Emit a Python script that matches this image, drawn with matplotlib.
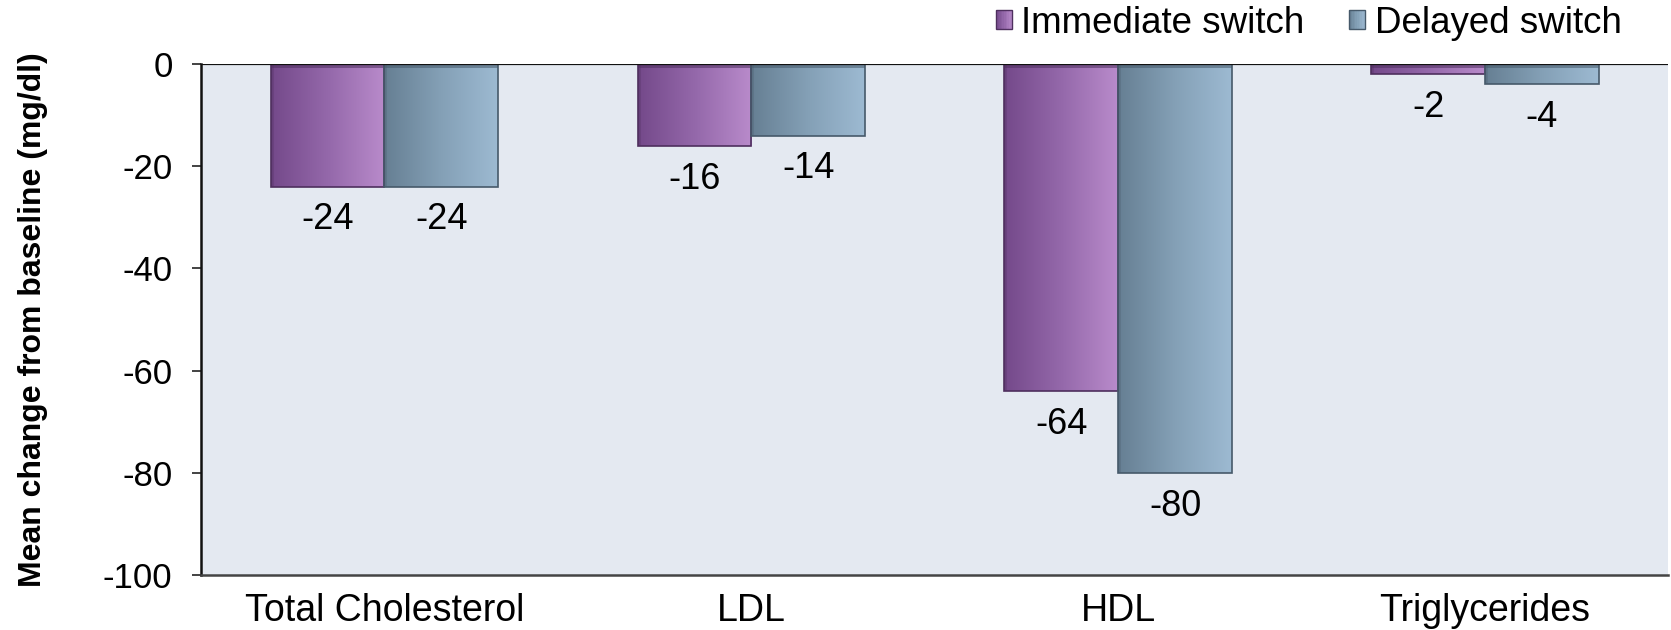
import numpy as np
import matplotlib
matplotlib.use("Agg")
import matplotlib.pyplot as plt
from matplotlib.patches import Rectangle
from matplotlib.legend_handler import HandlerBase
from matplotlib.colors import LinearSegmentedColormap

categories = ["Total Cholesterol", "LDL", "HDL", "Triglycerides"]
series_names = ["Immediate switch", "Delayed switch"]
immediate = [-24, -16, -64, -2]
delayed = [-24, -14, -80, -4]
yticks = [0, -20, -40, -60, -80, -100]

purple = ["#74498a", "#9468aa", "#b98bcb"]
bluegrey = ["#667f93", "#84a0b6", "#9dbad2"]
edge_p = "#4e2f5e"
edge_b = "#46596a"

plt.rcParams['font.family'] = ['Liberation Sans', 'DejaVu Sans']

fig = plt.figure(figsize=(16.71, 6.30), dpi=100)
ax = fig.add_axes([0.1203, 0.0873, 0.8782, 0.8111])
ax.set_facecolor("#e4e9f1")

x = np.arange(len(categories))
w = 0.31

def grad_bars(xs, vals, cols, edge):
    cmap = LinearSegmentedColormap.from_list("g", cols)
    bars = ax.bar(xs, vals, width=w, color="none", edgecolor=edge, linewidth=1.2, zorder=3)
    grad = np.linspace(0, 1, 256).reshape(1, -1)
    for b in bars:
        bx, by = b.get_x(), b.get_y()
        bw, bh = b.get_width(), b.get_height()
        im = ax.imshow(grad, cmap=cmap, aspect="auto",
                       extent=[bx, bx + bw, by, by + bh], zorder=2,
                       interpolation="bilinear")
        im.set_clip_path(b)
        # bevel shadow along the bar's end
        ln, = ax.plot([bx, bx + bw], [by, by], color=edge, linewidth=5,
                      alpha=0.55, zorder=2.5, solid_capstyle="butt")
        ln.set_clip_path(b)
        ln2, = ax.plot([bx, bx], [by, by + bh], color=edge, linewidth=4,
                       alpha=0.35, zorder=2.5, solid_capstyle="butt")
        ln2.set_clip_path(b)
    return bars

b1 = grad_bars(x - w / 2, immediate, purple, edge_p)
b2 = grad_bars(x + w / 2, delayed, bluegrey, edge_b)

for bars, vals in ((b1, immediate), (b2, delayed)):
    for b, v in zip(bars, vals):
        ax.annotate(f"{v}", (b.get_x() + b.get_width() / 2, v),
                    xytext=(0, -24), textcoords="offset points",
                    ha="center", va="center", fontsize=26, zorder=5)

ax.set_xlim(-0.5, 3.5)
ax.set_ylim(-100, 0)
ax.set_yticks(yticks)
ax.set_yticklabels([str(t) for t in yticks], fontsize=25)
ax.set_xticks(x)
ax.set_xticklabels(categories, fontsize=27)
ax.tick_params(axis="x", length=0, pad=13)
ax.tick_params(axis="y", length=6.5, width=1.2, pad=14, color="#222222")

for s in ("top", "right"):
    ax.spines[s].set_visible(False)
ax.spines["left"].set_linewidth(1.8)
ax.spines["left"].set_color("#111111")
ax.spines["bottom"].set_linewidth(1.8)
ax.spines["bottom"].set_color("#444444")
ax.axhline(0, color="#111111", linewidth=1.6, zorder=4)

ax.set_ylabel("Mean change from baseline (mg/dl)", fontsize=23, fontweight="bold")
ax.yaxis.set_label_coords(-0.104, 0.5)


class GradHandler(HandlerBase):
    def __init__(self, cols, edge):
        super().__init__()
        self.cols = cols
        self.edge = edge

    def create_artists(self, legend, orig_handle, xdescent, ydescent, width, height, fontsize, trans):
        cmap = LinearSegmentedColormap.from_list("g", self.cols)
        n = 10
        arts = []
        for i in range(n):
            r = Rectangle((-xdescent + width * i / n, -ydescent), width / n + 0.3, height,
                          facecolor=cmap((i + 0.5) / n), edgecolor="none", transform=trans)
            arts.append(r)
        arts.append(Rectangle((-xdescent, -ydescent), width, height, facecolor="none",
                              edgecolor=self.edge, linewidth=1.0, transform=trans))
        return arts


h1 = Rectangle((0, 0), 1, 1)
h2 = Rectangle((0, 0), 1, 1)
leg = ax.legend([h1, h2], series_names, loc="center right",
                bbox_to_anchor=(0.978, 1.0 + (64 - 23) / 511.0 * 1.0),
                ncol=2, frameon=False, fontsize=26.5,
                handlelength=0.45, handleheight=0.45, handletextpad=0.25,
                columnspacing=1.2, borderaxespad=0,
                handler_map={h1: GradHandler(purple, edge_p), h2: GradHandler(bluegrey, edge_b)})

fig.savefig("out.png", dpi=100)
